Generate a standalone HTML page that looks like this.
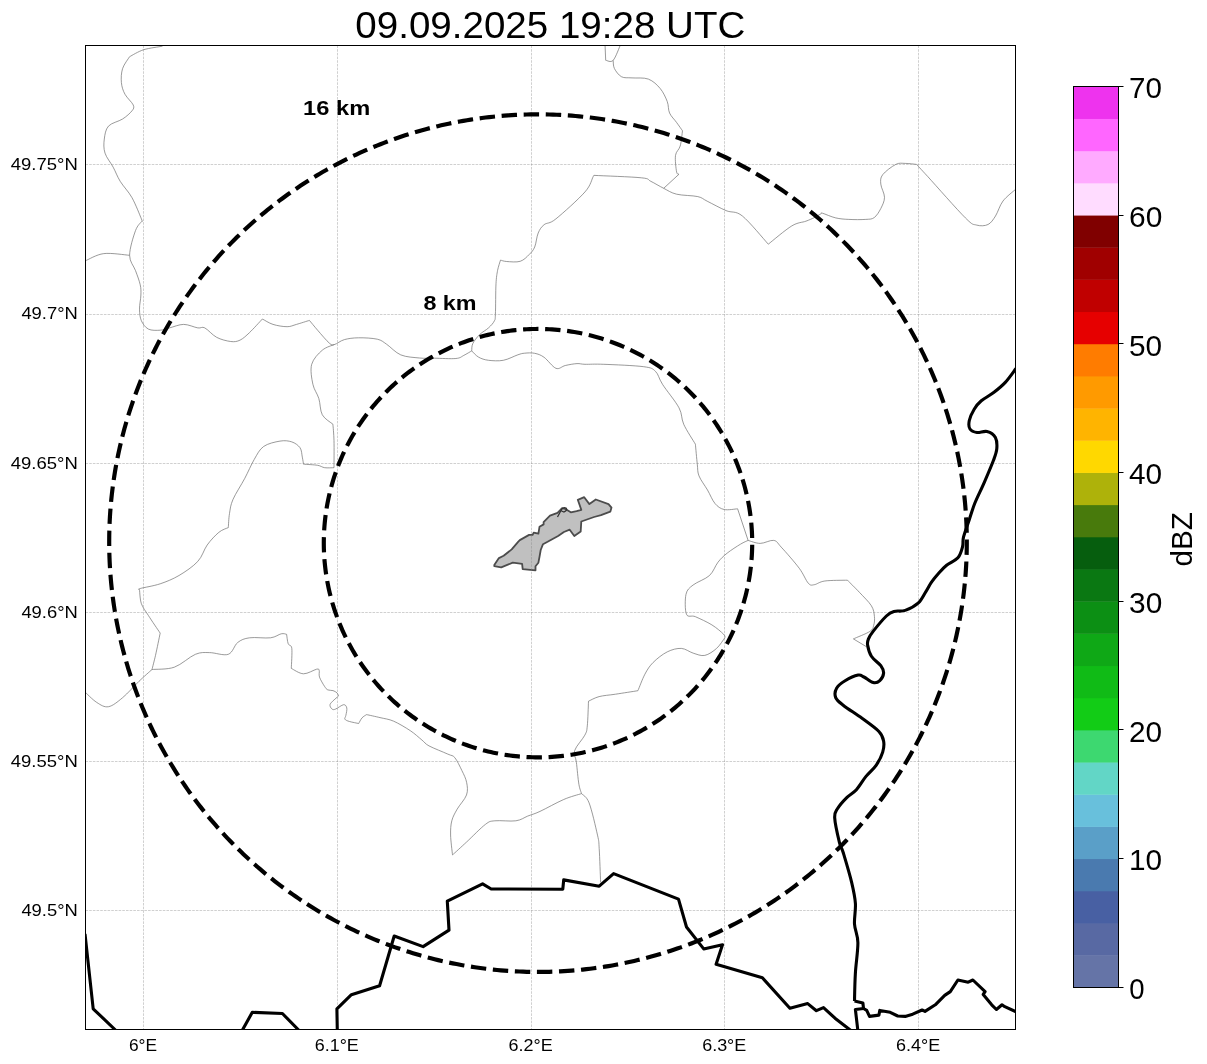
<!DOCTYPE html><html><head><meta charset="utf-8"><style>html,body{margin:0;padding:0;background:#fff;width:1207px;height:1064px;overflow:hidden}svg{display:block;will-change:transform}text{font-family:"Liberation Sans",sans-serif;fill:#000}</style></head><body>
<svg width="1207" height="1064" viewBox="0 0 1207 1064">
<rect width="1207" height="1064" fill="#fff"/>
<defs><clipPath id="ax"><rect x="85.5" y="45.5" width="930.0" height="984.0"/></clipPath></defs>
<g clip-path="url(#ax)">
<path d="M162.5,46.2 C159.4,46.8 149.2,48.0 143.7,49.7 C138.2,51.5 131.9,55.5 129.6,56.7 M129.6,56.7 C128.4,58.7 124.0,64.2 122.6,68.5 C121.2,72.8 121.0,78.3 121.4,82.6 C121.8,86.9 123.0,90.6 125.0,94.3 C127.0,98.0 132.0,102.2 133.2,104.9 C134.4,107.7 133.8,108.5 132.0,110.8 C130.2,113.1 126.5,116.5 122.6,119.0 C118.7,121.5 111.5,122.8 108.5,126.1 C105.5,129.4 104.9,134.5 104.3,139.0 C103.7,143.5 103.5,148.4 105.0,153.1 C106.5,157.8 110.7,162.5 113.2,167.2 C115.7,171.9 117.1,176.2 120.2,181.3 C123.3,186.4 128.5,191.4 132.0,197.7 C135.5,204.0 139.8,215.0 141.4,218.9 C143.1,222.8 141.8,220.8 141.9,221.2 M141.9,221.2 C140.8,222.8 137.6,224.9 135.5,230.6 C133.4,236.3 129.6,248.6 129.6,255.3 C129.6,262.0 133.7,265.7 135.5,270.6 C137.3,275.5 139.3,280.6 140.2,284.7 C141.1,288.8 141.0,290.9 140.9,295.0 C140.8,299.1 139.4,304.8 139.5,309.1 C139.6,313.4 139.9,317.5 141.4,320.8 C142.9,324.1 145.3,327.5 148.4,329.1 C151.5,330.7 156.7,330.4 160.2,330.2 C163.7,330.0 165.7,328.9 169.6,327.9 C173.5,326.9 179.0,324.4 183.7,324.4 C188.4,324.4 194.3,327.3 197.8,327.9 C201.3,328.5 201.7,326.3 204.8,327.9 C207.9,329.5 212.3,335.0 216.6,337.3 C220.9,339.6 226.8,341.0 230.7,341.5 C234.6,342.0 237.0,341.6 240.1,340.1 C243.2,338.6 245.8,336.1 249.5,332.6 C253.2,329.1 260.2,321.3 262.4,319.0 M262.4,319.0 C264.2,319.9 268.9,323.1 273.0,324.4 C277.1,325.7 283.2,326.7 287.1,326.7 C291.0,326.7 292.8,325.4 296.5,324.4 C300.2,323.3 307.2,321.1 309.4,320.4 M309.4,320.4 C310.8,322.0 314.3,326.4 317.6,330.2 C320.9,334.0 326.6,340.8 329.4,343.2 C332.2,345.6 332.0,345.1 334.5,344.5 C337.0,343.9 340.4,340.7 344.4,339.6 C348.4,338.5 353.0,337.9 358.5,337.8 C364.0,337.7 372.6,338.1 377.3,339.2 C382.0,340.3 382.8,341.7 386.7,344.3 C390.6,346.9 395.3,352.6 400.8,354.9 C406.3,357.2 414.0,357.4 419.6,358.0 C425.2,358.6 428.4,358.1 434.5,358.2 C440.6,358.3 451.0,359.0 455.9,358.5 C460.8,358.0 461.2,356.7 463.8,355.4 C466.4,354.1 470.4,351.6 471.7,350.9 M129.6,255.3 C125.3,255.0 111.2,252.7 103.8,253.6 C96.4,254.5 88.1,259.8 85.0,261.0 M605.0,44.0 L605.7,60.3 M605.7,60.3 C607.0,60.3 610.7,63.0 613.2,60.3 C615.7,57.6 619.5,46.7 620.8,44.0 M613.2,60.3 C613.4,61.7 613.0,65.8 614.4,68.5 C615.8,71.2 618.5,75.1 621.4,76.7 C624.3,78.3 627.5,77.5 632.0,77.9 C636.5,78.3 643.7,77.3 648.4,79.1 C653.1,80.9 657.1,84.8 660.2,88.5 C663.3,92.2 665.6,97.3 667.2,101.4 C668.8,105.5 668.0,109.6 669.6,113.1 C671.2,116.6 674.5,119.5 676.6,122.5 C678.8,125.5 681.5,129.4 682.5,130.8 M682.5,130.8 C682.1,133.3 681.4,141.9 680.2,146.0 C679.0,150.1 676.1,151.1 675.5,155.4 C674.9,159.7 676.0,168.8 676.6,171.9 C677.2,175.0 678.6,173.8 679.0,174.2 M679.0,174.2 L663.7,188.3 M471.7,350.9 C471.9,349.7 471.5,346.3 472.8,343.6 C474.1,340.9 477.0,337.2 479.6,334.6 C482.2,332.0 486.2,330.1 488.6,327.8 C491.1,325.5 493.2,323.2 494.3,321.0 C495.4,318.8 495.1,320.5 495.4,314.3 C495.7,308.1 495.6,291.1 496.0,283.8 C496.4,276.5 496.9,274.2 497.6,270.3 C498.4,266.4 500.0,261.8 500.5,260.1 M500.5,260.1 C501.5,260.3 503.4,261.3 506.7,261.5 C510.0,261.7 516.5,262.5 520.2,261.3 C524.0,260.1 526.8,256.9 529.2,254.5 C531.6,252.1 533.2,250.6 534.7,247.0 C536.2,243.4 536.6,236.7 538.2,233.0 C539.8,229.3 541.2,227.0 544.1,224.7 C547.0,222.3 549.1,224.4 555.9,218.9 C562.7,213.4 578.8,199.0 585.0,191.9 C591.2,184.8 591.6,179.3 593.2,176.6 C594.8,173.8 594.2,175.6 594.4,175.4 M594.4,175.4 C602.2,175.8 632.0,176.8 641.4,177.8 C650.8,178.8 647.1,179.6 650.8,181.3 C654.5,183.1 659.4,186.2 663.7,188.3 C668.0,190.5 670.9,192.8 676.6,194.2 C682.3,195.6 692.7,195.4 697.8,196.6 C702.9,197.8 702.5,198.9 707.2,201.2 C711.9,203.5 720.1,208.1 726.0,210.6 C731.9,213.1 735.4,210.4 742.4,216.0 C749.4,221.6 764.0,239.5 768.3,244.2 M768.3,244.2 C772.2,241.1 785.5,229.7 791.8,225.9 C798.1,222.1 802.2,222.6 805.9,221.2 C809.6,219.8 811.6,218.9 814.1,217.7 C816.6,216.4 819.7,214.4 821.1,213.7 C822.5,212.9 820.1,212.5 822.5,213.2 C824.9,213.9 831.3,216.9 835.7,217.9 C840.1,218.9 843.8,219.2 848.8,219.4 C853.8,219.7 861.6,219.7 865.8,219.4 C870.0,219.1 871.7,219.4 874.2,217.6 C876.7,215.8 879.1,211.9 880.8,208.5 C882.5,205.1 884.5,201.4 884.5,197.3 C884.5,193.2 881.1,187.9 880.8,184.1 C880.5,180.3 880.2,178.0 882.7,174.7 C885.2,171.4 892.0,166.3 895.8,164.4 C899.5,162.5 901.8,163.4 905.2,163.4 C908.7,163.4 914.6,164.2 916.5,164.4 M916.5,164.4 C918.4,166.4 919.6,167.7 927.8,176.6 C935.9,185.5 957.2,209.8 965.4,217.9 C973.5,226.0 972.9,224.0 976.7,225.1 C980.5,226.2 984.9,226.0 988.0,224.5 C991.1,223.0 993.0,219.9 995.5,216.0 C998.0,212.1 999.6,205.5 1003.0,201.0 C1006.4,196.5 1013.8,191.0 1016.0,189.0 M334.5,344.5 C332.5,345.4 326.1,346.9 322.3,350.2 C318.5,353.5 313.3,358.6 311.7,364.3 C310.1,370.0 311.7,378.6 312.9,384.3 C314.1,390.0 317.2,393.3 318.8,398.4 C320.4,403.5 320.0,410.5 322.3,414.8 C324.6,419.1 331.1,422.6 332.9,424.2 M332.9,424.2 C333.1,426.9 333.8,433.4 334.0,440.7 C334.2,447.9 334.0,463.2 334.0,467.7 M334.0,467.7 C332.4,467.7 327.4,468.1 324.7,467.7 C322.0,467.3 321.1,465.9 317.6,465.3 C314.1,464.7 305.9,464.4 303.5,464.2 M303.5,464.2 C303.3,463.0 302.9,459.9 302.3,457.1 C301.7,454.4 301.8,450.2 300.0,447.7 C298.2,445.2 295.1,443.0 291.8,441.9 C288.5,440.8 284.7,440.3 280.0,441.1 C275.3,441.9 267.9,443.4 263.6,446.5 C259.3,449.6 257.3,454.2 254.2,459.5 C251.1,464.8 248.3,471.7 244.8,478.3 C241.3,484.9 235.6,493.5 233.0,499.4 C230.4,505.3 230.3,508.8 229.5,513.5 C228.7,518.2 228.5,525.2 228.3,527.6 M228.3,527.6 C226.7,528.4 222.4,529.4 218.9,532.3 C215.4,535.2 210.7,540.1 207.2,545.0 C203.7,549.9 202.5,556.3 197.8,561.4 C193.1,566.5 185.3,571.8 179.0,575.5 C172.7,579.2 166.7,581.6 160.2,583.8 C153.7,586.0 143.6,587.5 140.2,588.5 C136.8,589.5 139.6,589.4 139.5,589.6 M139.5,589.6 C139.8,592.0 139.9,599.4 141.4,603.7 C142.9,608.0 145.3,610.6 148.4,615.5 C151.5,620.4 158.2,630.2 160.2,633.1 M160.2,633.1 C159.4,636.8 156.9,649.3 155.5,655.4 C154.1,661.5 152.6,667.1 152.0,669.5 M152.0,669.5 C149.8,671.5 143.9,676.6 139.0,681.3 C134.1,686.0 127.7,693.5 122.6,697.7 C117.5,701.9 112.8,705.9 108.5,706.7 C104.2,707.5 100.8,705.0 96.7,702.4 C92.6,699.8 86.1,692.9 84.0,691.0 M152.0,669.5 C155.7,669.1 167.1,669.7 174.3,667.2 C181.5,664.7 189.5,656.7 195.4,654.3 C201.3,651.9 204.0,652.6 209.5,652.6 C215.0,652.6 223.6,656.0 228.3,654.3 C233.0,652.6 234.2,645.2 237.7,642.5 C241.2,639.8 244.0,638.6 249.5,637.8 C255.0,637.0 265.3,638.5 270.6,637.8 C275.9,637.1 278.5,634.4 281.2,633.8 C283.9,633.2 285.7,634.2 286.6,634.3 M286.6,634.3 C286.9,635.9 287.3,641.4 288.2,643.7 C289.1,646.1 291.3,644.3 291.8,648.4 C292.3,652.5 291.4,665.1 291.3,668.4 M291.3,668.4 C293.3,669.3 299.3,673.7 303.5,673.8 C307.7,673.9 314.0,669.8 316.6,669.2 C319.2,668.7 318.7,669.2 319.2,670.5 C319.7,671.8 318.6,674.5 319.5,677.1 C320.4,679.7 323.1,684.2 324.5,686.3 C325.9,688.4 326.4,689.2 327.8,689.9 C329.2,690.6 331.5,690.1 333.0,690.6 C334.5,691.1 336.1,692.0 337.0,692.9 C337.9,693.8 338.3,695.4 338.6,695.9 M338.6,695.9 C337.4,697.0 332.5,701.1 331.1,702.8 C329.7,704.5 329.9,705.0 330.1,706.1 C330.3,707.2 331.5,708.8 332.4,709.3 C333.3,709.8 333.8,709.8 335.7,709.0 C337.6,708.2 341.8,704.9 343.6,704.7 C345.5,704.5 346.4,706.2 346.8,708.0 C347.2,709.8 346.2,713.4 345.9,715.3 C345.6,717.2 344.3,718.2 344.9,719.2 C345.5,720.2 347.2,720.8 349.5,721.5 C351.8,722.2 357.2,723.2 358.7,723.5 M358.7,723.5 C359.2,722.6 360.7,719.4 362.0,717.9 C363.3,716.4 365.8,715.1 366.6,714.6 M366.6,714.6 C368.8,715.1 375.5,716.5 380.0,717.6 C384.5,718.7 388.7,719.0 393.7,721.2 C398.7,723.4 405.5,727.5 410.2,730.6 C414.9,733.7 418.8,737.5 421.9,740.0 C425.0,742.5 424.7,743.5 429.0,745.9 C433.3,748.2 443.5,752.1 447.8,754.1 C452.1,756.1 452.5,754.9 454.8,757.6 C457.1,760.4 459.9,766.5 461.9,770.6 C463.9,774.7 465.8,778.2 466.6,782.3 C467.4,786.4 468.1,790.5 466.5,795.0 C464.9,799.5 459.6,804.8 457.2,809.1 C454.8,813.4 452.9,816.5 451.8,820.8 C450.7,825.1 450.5,829.3 450.6,835.0 C450.7,840.7 452.2,851.6 452.5,854.9 M452.5,854.9 C454.9,852.8 461.1,847.1 466.6,842.0 C472.1,836.9 480.7,827.9 485.4,824.4 C490.1,820.9 489.7,821.4 494.8,820.8 C499.9,820.2 510.4,821.6 515.9,820.8 C521.4,820.0 523.7,817.7 527.7,816.1 C531.7,814.5 534.0,814.2 540.0,811.4 C546.0,808.6 556.8,802.5 563.7,799.5 C570.6,796.5 578.5,794.6 581.5,793.6 M748.1,540.4 C746.9,541.0 744.1,542.0 740.6,544.1 C737.1,546.2 730.9,550.2 727.1,553.2 C723.3,556.2 720.9,558.5 718.0,562.2 C715.1,565.9 713.6,571.7 709.5,575.5 C705.4,579.3 697.0,581.9 693.1,585.0 C689.2,588.1 687.1,589.4 686.0,594.3 C684.9,599.2 684.9,610.6 686.5,614.3 C688.1,618.0 691.2,614.9 695.4,616.7 C699.6,618.5 707.2,622.0 711.9,624.9 C716.6,627.8 721.5,632.1 723.6,634.3 C725.8,636.4 724.6,637.2 724.8,637.8 M724.8,637.8 C723.4,639.6 719.9,645.5 716.6,648.4 C713.3,651.3 708.7,654.6 704.8,655.4 C700.9,656.2 697.0,654.3 693.1,653.1 C689.2,651.9 685.6,648.6 681.3,648.4 C677.0,648.2 671.9,649.5 667.2,651.9 C662.5,654.2 656.8,658.8 653.1,662.5 C649.4,666.2 647.4,669.5 644.9,674.2 C642.4,678.9 639.1,688.0 637.9,690.7 M637.9,690.7 C634.2,691.3 622.0,693.2 615.5,694.2 C609.0,695.2 603.6,695.4 599.1,696.6 C594.6,697.8 590.3,700.4 588.5,701.2 M588.5,701.2 C588.3,705.3 587.9,720.2 587.3,725.9 C586.7,731.6 586.9,731.1 584.8,735.2 C582.7,739.3 576.1,746.0 574.7,750.5 C573.3,755.0 575.7,756.7 576.4,762.3 C577.1,767.9 578.0,779.1 578.9,784.3 C579.8,789.5 581.1,792.0 581.5,793.6 M581.5,793.6 C582.8,795.1 586.4,796.0 589.1,802.9 C591.8,809.8 595.8,827.5 597.5,835.1 C599.2,842.7 598.7,840.7 599.2,848.6 C599.7,856.5 600.4,876.8 600.6,882.4 M471.7,350.9 C472.8,351.9 475.7,355.5 478.5,357.1 C481.3,358.7 484.5,359.8 488.6,360.3 C492.7,360.8 498.4,361.2 503.3,360.3 C508.2,359.4 514.3,356.0 517.9,354.8 C521.5,353.6 521.9,353.4 524.7,353.2 C527.5,352.9 531.5,352.6 534.7,353.3 C537.9,354.0 540.6,354.8 544.1,357.3 C547.6,359.8 552.4,366.9 555.9,368.3 C559.4,369.7 561.8,366.3 565.3,365.5 C568.8,364.7 573.7,363.8 577.0,363.6 C580.3,363.4 580.5,364.2 585.0,364.3 C589.5,364.4 594.0,363.9 603.8,364.3 C613.6,364.7 635.1,365.5 643.7,366.7 C652.3,367.9 652.4,368.5 655.5,371.4 C658.6,374.3 658.6,378.2 662.5,384.3 C666.4,390.4 675.5,401.2 679.0,407.8 C682.5,414.4 681.0,418.1 683.7,424.2 C686.4,430.3 693.5,440.9 695.4,444.2 M695.4,444.2 C695.7,447.5 696.7,458.9 697.3,464.2 C697.9,469.5 697.3,471.6 699.0,475.9 C700.7,480.2 704.8,485.4 707.5,490.0 C710.2,494.6 712.2,500.2 715.0,503.5 C717.8,506.8 720.3,508.6 724.1,509.5 C727.9,510.4 735.4,508.9 737.6,508.8 M737.6,508.8 L748.1,540.4 M748.1,540.4 C750.1,540.9 755.9,543.4 760.2,543.4 C764.5,543.4 770.2,539.8 773.7,540.4 C777.2,541.0 777.0,542.5 781.2,547.1 C785.5,551.7 794.7,562.2 799.2,568.2 C803.7,574.2 805.8,580.5 808.3,583.2 C810.8,586.0 811.5,585.1 814.3,584.7 C817.0,584.3 819.3,581.8 824.8,581.0 C830.3,580.2 843.6,580.3 847.4,580.2 M847.4,580.2 C849.4,582.2 855.4,588.0 859.4,592.3 C863.4,596.6 868.9,601.8 871.4,605.8 C873.9,609.8 874.0,613.0 874.4,616.3 C874.8,619.5 874.5,622.8 873.7,625.3 C873.0,627.8 873.3,629.1 869.9,631.4 C866.5,633.7 856.1,637.6 853.4,638.9 M853.4,638.9 L868.4,647.9" fill="none" stroke="#6e6e6e" stroke-width="0.7" stroke-linejoin="round"/>
<polygon points="494.3,565.0 498.9,558.1 503.6,555.8 511.7,549.4 518.1,541.8 519.8,540.1 529.1,534.9 532.6,534.9 533.7,532.6 538.4,533.7 539.5,526.8 543.6,524.4 543.6,522.1 545.3,520.4 550.0,515.7 557.5,512.8 562.1,508.2 565.0,508.8 570.8,512.3 576.6,511.1 581.3,509.9 577.8,499.8 584.2,497.2 589.4,504.1 595.8,499.5 608.5,504.1 611.5,507.6 610.3,511.7 601.0,515.2 594.1,517.0 581.3,521.5 580.7,531.4 574.3,536.0 569.7,529.7 563.9,532.0 558.1,536.0 547.6,541.8 543.0,544.2 540.7,550.0 539.5,556.9 538.4,562.7 535.5,566.2 535.5,570.3 522.7,569.1 522.1,563.9 512.8,562.7 501.2,567.4 494.3,566.2" fill="#c0c0c0" stroke="#4c4c4c" stroke-width="1.8" stroke-linejoin="round"/>
<path d="M557.5 517 L561 510.5 Q563 506.5 566 508 Q568 510 564 512 L561.5 511" fill="none" stroke="#333" stroke-width="1.3"/>
<path d="M143.5 45.5V1029.5M337.5 45.5V1029.5M531.5 45.5V1029.5M724.5 45.5V1029.5M918.5 45.5V1029.5M85.5 164.5H1015.5M85.5 314.5H1015.5M85.5 463.5H1015.5M85.5 612.5H1015.5M85.5 761.5H1015.5M85.5 910.5H1015.5" stroke="#808080" stroke-opacity="0.37" stroke-width="1" stroke-dasharray="2.57 1.11" fill="none"/>
<path d="M1016.0,368.5 C1014.2,370.8 1009.0,378.4 1005.3,382.4 C1001.6,386.4 998.0,389.2 994.0,392.3 C990.0,395.4 984.6,398.0 981.3,400.8 C978.0,403.6 976.2,405.9 974.2,409.2 C972.2,412.5 970.0,417.2 969.3,420.5 C968.6,423.8 968.7,427.0 970.0,429.0 C971.3,431.0 974.2,432.1 977.0,432.5 C979.8,432.9 983.9,430.7 987.0,431.5 C990.1,432.3 993.8,434.5 995.4,437.4 C997.0,440.3 997.1,444.9 996.8,448.7 C996.5,452.5 995.7,454.4 993.6,460.0 C991.5,465.6 987.3,475.4 984.2,482.6 C981.1,489.8 977.3,497.0 974.8,503.3 C972.3,509.6 971.0,514.6 969.1,520.2 C967.2,525.8 964.6,532.7 963.5,537.1 C962.4,541.5 963.5,543.0 962.6,546.5 C961.7,550.0 960.6,554.7 957.9,557.8 C955.2,560.9 949.7,562.8 946.6,565.3 C943.5,567.8 941.6,570.0 939.1,572.8 C936.6,575.6 933.7,579.1 931.5,582.2 C929.3,585.3 928.1,588.2 925.9,591.6 C923.7,595.0 921.8,599.8 918.4,602.9 C915.0,606.0 909.3,609.0 905.2,610.4 C901.1,611.8 897.0,610.5 893.9,611.4 C890.8,612.3 889.8,612.7 886.4,616.0 C883.0,619.3 876.3,627.3 873.3,631.1 C870.3,634.9 869.5,636.3 868.6,638.6 C867.7,640.9 867.1,642.0 867.6,645.0 C868.1,648.0 869.2,652.8 871.4,656.3 C873.6,659.8 878.8,662.9 880.8,665.7 C882.8,668.5 883.8,670.7 883.6,673.2 C883.4,675.7 881.5,679.1 879.8,680.7 C878.1,682.3 875.9,683.2 873.3,682.6 C870.6,682.0 866.4,678.2 863.9,677.0 C861.4,675.8 861.3,674.5 858.2,675.1 C855.1,675.7 848.7,678.5 845.1,680.7 C841.5,682.9 838.2,685.4 836.6,688.2 C835.0,691.0 834.6,694.8 835.7,697.6 C836.8,700.4 838.8,701.8 843.2,705.2 C847.6,708.7 856.0,713.9 862.0,718.3 C868.0,722.7 875.3,727.7 878.9,731.5 C882.5,735.3 883.0,737.5 883.6,740.9 C884.2,744.3 884.0,748.0 882.7,752.1 C881.5,756.2 878.9,761.2 876.1,765.3 C873.3,769.4 869.1,772.5 865.8,776.6 C862.5,780.7 859.5,786.2 856.4,789.7 C853.3,793.2 850.1,794.2 847.0,797.3 C843.9,800.4 839.6,805.1 837.6,808.5 C835.6,811.9 834.4,812.2 834.7,817.9 C835.0,823.5 838.0,836.6 839.4,842.4 C840.8,848.2 841.2,845.8 843.2,852.5 C845.2,859.2 849.7,874.1 851.7,882.6 C853.7,891.1 854.9,896.4 855.4,903.3 C855.9,910.2 854.1,917.4 854.5,924.0 C854.9,930.6 857.8,934.6 857.9,942.7 C858.0,950.8 856.0,963.1 855.4,972.8 C854.8,982.5 854.6,996.3 854.5,1001.0" fill="none" stroke="#000" stroke-width="3.1" stroke-linejoin="round"/>
<polyline points="854.5,1001.0 862.9,1002.9 863.5,1008.5 855.4,1009.5 857.9,1031.0" fill="none" stroke="#000" stroke-width="3.1" stroke-linejoin="round" stroke-linecap="butt"/>
<polyline points="863.5,1008.5 866.7,1010.4 869.5,1016.4 878.9,1015.1 879.8,1010.4 890.2,1012.3 897.7,1016.0 905.2,1016.4 912.7,1014.2 922.1,1010.0 925.0,1011.4 935.3,1004.8 944.7,995.4 950.3,991.6 957.9,980.0 968.2,982.2 972.9,980.0 985.1,991.6 983.2,994.4 991.7,1004.8 996.4,1009.5 1002.0,1004.8 1004.8,1006.7 1016.0,1011.8" fill="none" stroke="#000" stroke-width="3.1" stroke-linejoin="round" stroke-linecap="butt"/>
<polyline points="241.9,1031.0 252.3,1012.3 282.4,1013.5 299.6,1031.0" fill="none" stroke="#000" stroke-width="3.1" stroke-linejoin="round" stroke-linecap="butt"/>
<polyline points="337.3,1031.0 336.9,1008.8 351.4,994.7 379.6,985.8 394.2,936.0 423.1,946.6 449.0,930.1 447.3,901.2 482.6,883.8 491.2,889.0 562.8,889.2 563.7,879.9 599.2,886.2 613.6,873.6 678.5,899.1 686.5,927.0 703.7,948.9 722.5,944.7 716.1,964.2 762.4,977.8 789.9,1008.3 807.7,1003.6 816.4,1010.7 823.5,1007.6 835.0,1018.2 851.5,1031.0" fill="none" stroke="#000" stroke-width="3.1" stroke-linejoin="round" stroke-linecap="butt"/>
<polyline points="85.0,934.0 93.2,1008.8 116.5,1031.0" fill="none" stroke="#000" stroke-width="3.1" stroke-linejoin="round" stroke-linecap="butt"/>
<path d="M966.80,543.15 L966.77,546.89 L966.71,550.63 L966.62,554.37 L966.49,558.11 L966.34,561.85 L966.15,565.59 L965.92,569.33 L965.67,573.06 L965.38,576.79 L965.06,580.52 L964.71,584.25 L964.32,587.97 L963.90,591.69 L963.45,595.41 L962.97,599.12 L962.45,602.83 L961.91,606.53 L961.33,610.23 L960.71,613.92 L960.07,617.61 L959.39,621.29 L958.69,624.97 L957.95,628.64 L957.17,632.30 L956.37,635.96 L955.53,639.61 L954.67,643.25 L953.77,646.89 L952.84,650.51 L951.87,654.13 L950.88,657.74 L949.85,661.34 L948.80,664.94 L947.71,668.52 L946.59,672.09 L945.44,675.66 L944.26,679.21 L943.05,682.75 L941.81,686.29 L940.53,689.81 L939.23,693.32 L937.90,696.82 L936.53,700.31 L935.14,703.78 L933.71,707.24 L932.26,710.70 L930.77,714.13 L929.26,717.56 L927.72,720.97 L926.14,724.37 L924.54,727.75 L922.91,731.12 L921.24,734.48 L919.55,737.82 L917.83,741.15 L916.09,744.46 L914.31,747.76 L912.50,751.04 L910.67,754.30 L908.81,757.55 L906.92,760.78 L905.00,764.00 L903.05,767.20 L901.08,770.38 L899.07,773.54 L897.05,776.69 L894.99,779.82 L892.91,782.93 L890.80,786.02 L888.66,789.10 L886.50,792.16 L884.31,795.19 L882.09,798.21 L879.85,801.21 L877.58,804.19 L875.29,807.15 L872.97,810.08 L870.62,813.00 L868.25,815.90 L865.86,818.78 L863.44,821.63 L861.00,824.47 L858.53,827.28 L856.03,830.07 L853.52,832.84 L850.98,835.59 L848.41,838.32 L845.82,841.02 L843.21,843.70 L840.58,846.36 L837.92,848.99 L835.24,851.60 L832.54,854.19 L829.81,856.75 L827.07,859.29 L824.30,861.81 L821.51,864.30 L818.69,866.77 L815.86,869.21 L813.01,871.63 L810.13,874.02 L807.24,876.39 L804.32,878.73 L801.38,881.05 L798.43,883.34 L795.45,885.60 L792.46,887.84 L789.44,890.06 L786.41,892.24 L783.36,894.40 L780.29,896.54 L777.20,898.64 L774.09,900.72 L770.97,902.77 L767.82,904.80 L764.66,906.79 L761.49,908.76 L758.29,910.70 L755.08,912.62 L751.85,914.50 L748.61,916.36 L745.35,918.19 L742.08,919.99 L738.79,921.76 L735.48,923.50 L732.16,925.21 L728.83,926.90 L725.48,928.55 L722.11,930.18 L718.74,931.77 L715.35,933.34 L711.94,934.88 L708.52,936.39 L705.09,937.86 L701.65,939.31 L698.19,940.73 L694.73,942.11 L691.25,943.47 L687.76,944.80 L684.25,946.09 L680.74,947.35 L677.22,948.59 L673.68,949.79 L670.14,950.96 L666.58,952.10 L663.02,953.21 L659.44,954.29 L655.86,955.34 L652.27,956.35 L648.67,957.34 L645.06,958.29 L641.44,959.21 L637.82,960.10 L634.18,960.96 L630.54,961.79 L626.90,962.58 L623.24,963.34 L619.58,964.07 L615.92,964.77 L612.25,965.44 L608.57,966.07 L604.88,966.67 L601.20,967.24 L597.50,967.78 L593.81,968.28 L590.11,968.75 L586.40,969.19 L582.69,969.60 L578.98,969.98 L575.26,970.32 L571.54,970.63 L567.82,970.91 L564.10,971.15 L560.38,971.36 L556.65,971.54 L552.92,971.69 L549.19,971.80 L545.46,971.88 L541.73,971.93 L538.00,971.95 L534.27,971.93 L530.54,971.88 L526.81,971.80 L523.08,971.69 L519.35,971.54 L515.62,971.36 L511.90,971.15 L508.18,970.91 L504.46,970.63 L500.74,970.32 L497.02,969.98 L493.31,969.60 L489.60,969.19 L485.89,968.75 L482.19,968.28 L478.50,967.78 L474.80,967.24 L471.12,966.67 L467.43,966.07 L463.75,965.44 L460.08,964.77 L456.42,964.07 L452.76,963.34 L449.10,962.58 L445.46,961.79 L441.82,960.96 L438.18,960.10 L434.56,959.21 L430.94,958.29 L427.33,957.34 L423.73,956.35 L420.14,955.34 L416.56,954.29 L412.98,953.21 L409.42,952.10 L405.86,950.96 L402.32,949.79 L398.78,948.59 L395.26,947.35 L391.75,946.09 L388.24,944.80 L384.75,943.47 L381.27,942.11 L377.81,940.73 L374.35,939.31 L370.91,937.86 L367.48,936.39 L364.06,934.88 L360.65,933.34 L357.26,931.77 L353.89,930.18 L350.52,928.55 L347.17,926.90 L343.84,925.21 L340.52,923.50 L337.21,921.76 L333.92,919.99 L330.65,918.19 L327.39,916.36 L324.15,914.50 L320.92,912.62 L317.71,910.70 L314.51,908.76 L311.34,906.79 L308.18,904.80 L305.03,902.77 L301.91,900.72 L298.80,898.64 L295.71,896.54 L292.64,894.40 L289.59,892.24 L286.56,890.06 L283.54,887.84 L280.55,885.60 L277.57,883.34 L274.62,881.05 L271.68,878.73 L268.76,876.39 L265.87,874.02 L262.99,871.63 L260.14,869.21 L257.31,866.77 L254.49,864.30 L251.70,861.81 L248.93,859.29 L246.19,856.75 L243.46,854.19 L240.76,851.60 L238.08,848.99 L235.42,846.36 L232.79,843.70 L230.18,841.02 L227.59,838.32 L225.02,835.59 L222.48,832.84 L219.97,830.07 L217.47,827.28 L215.00,824.47 L212.56,821.63 L210.14,818.78 L207.75,815.90 L205.38,813.00 L203.03,810.08 L200.71,807.15 L198.42,804.19 L196.15,801.21 L193.91,798.21 L191.69,795.19 L189.50,792.16 L187.34,789.10 L185.20,786.02 L183.09,782.93 L181.01,779.82 L178.95,776.69 L176.93,773.54 L174.92,770.38 L172.95,767.20 L171.00,764.00 L169.08,760.78 L167.19,757.55 L165.33,754.30 L163.50,751.04 L161.69,747.76 L159.91,744.46 L158.17,741.15 L156.45,737.82 L154.76,734.48 L153.09,731.12 L151.46,727.75 L149.86,724.37 L148.28,720.97 L146.74,717.56 L145.23,714.13 L143.74,710.70 L142.29,707.24 L140.86,703.78 L139.47,700.31 L138.10,696.82 L136.77,693.32 L135.47,689.81 L134.19,686.29 L132.95,682.75 L131.74,679.21 L130.56,675.66 L129.41,672.09 L128.29,668.52 L127.20,664.94 L126.15,661.34 L125.12,657.74 L124.13,654.13 L123.16,650.51 L122.23,646.89 L121.33,643.25 L120.47,639.61 L119.63,635.96 L118.83,632.30 L118.05,628.64 L117.31,624.97 L116.61,621.29 L115.93,617.61 L115.29,613.92 L114.67,610.23 L114.09,606.53 L113.55,602.83 L113.03,599.12 L112.55,595.41 L112.10,591.69 L111.68,587.97 L111.29,584.25 L110.94,580.52 L110.62,576.79 L110.33,573.06 L110.08,569.33 L109.85,565.59 L109.66,561.85 L109.51,558.11 L109.38,554.37 L109.29,550.63 L109.23,546.89 L109.20,543.15 L109.21,539.41 L109.24,535.67 L109.31,531.93 L109.42,528.19 L109.55,524.45 L109.72,520.71 L109.92,516.97 L110.16,513.24 L110.42,509.51 L110.72,505.78 L111.05,502.05 L111.42,498.33 L111.81,494.61 L112.24,490.89 L112.70,487.18 L113.20,483.47 L113.73,479.77 L114.28,476.07 L114.87,472.38 L115.50,468.69 L116.15,465.01 L116.84,461.33 L117.56,457.66 L118.31,454.00 L119.10,450.34 L119.91,446.69 L120.76,443.05 L121.64,439.41 L122.55,435.79 L123.49,432.17 L124.47,428.56 L125.48,424.96 L126.51,421.36 L127.58,417.78 L128.68,414.21 L129.82,410.64 L130.98,407.09 L132.17,403.55 L133.40,400.01 L134.65,396.49 L135.94,392.98 L137.26,389.48 L138.61,385.99 L139.98,382.52 L141.39,379.06 L142.83,375.60 L144.30,372.17 L145.80,368.74 L147.33,365.33 L148.89,361.93 L150.48,358.55 L152.10,355.18 L153.75,351.82 L155.42,348.48 L157.13,345.15 L158.87,341.84 L160.63,338.54 L162.43,335.26 L164.25,332.00 L166.10,328.75 L167.98,325.52 L169.89,322.30 L171.82,319.10 L173.79,315.92 L175.78,312.76 L177.80,309.61 L179.85,306.48 L181.92,303.37 L184.02,300.28 L186.15,297.20 L188.31,294.14 L190.49,291.11 L192.70,288.09 L194.94,285.09 L197.20,282.11 L199.49,279.15 L201.80,276.22 L204.14,273.30 L206.51,270.40 L208.90,267.52 L211.31,264.67 L213.75,261.83 L216.22,259.02 L218.71,256.23 L221.22,253.46 L223.76,250.71 L226.33,247.98 L228.91,245.28 L231.52,242.60 L234.16,239.94 L236.82,237.31 L239.50,234.70 L242.20,232.11 L244.93,229.55 L247.68,227.01 L250.45,224.49 L253.24,222.00 L256.05,219.53 L258.89,217.09 L261.75,214.67 L264.63,212.28 L267.53,209.91 L270.45,207.57 L273.39,205.25 L276.35,202.96 L279.33,200.70 L282.33,198.46 L285.35,196.24 L288.40,194.06 L291.45,191.90 L294.53,189.76 L297.63,187.66 L300.75,185.58 L303.88,183.53 L307.03,181.50 L310.20,179.51 L313.39,177.54 L316.59,175.60 L319.81,173.68 L323.05,171.80 L326.31,169.94 L329.58,168.11 L332.86,166.31 L336.16,164.54 L339.48,162.80 L342.82,161.09 L346.16,159.40 L349.53,157.75 L352.90,156.12 L356.30,154.53 L359.70,152.96 L363.12,151.42 L366.55,149.91 L370.00,148.44 L373.46,146.99 L376.93,145.57 L380.41,144.19 L383.91,142.83 L387.42,141.50 L390.93,140.21 L394.46,138.95 L398.01,137.71 L401.56,136.51 L405.12,135.34 L408.69,134.20 L412.28,133.09 L415.87,132.01 L419.47,130.96 L423.08,129.95 L426.70,128.96 L430.33,128.01 L433.97,127.09 L437.61,126.20 L441.26,125.34 L444.92,124.51 L448.59,123.72 L452.26,122.96 L455.94,122.23 L459.63,121.53 L463.32,120.86 L467.02,120.23 L470.72,119.63 L474.43,119.06 L478.15,118.52 L481.87,118.02 L485.59,117.55 L489.32,117.11 L493.05,116.70 L496.78,116.32 L500.52,115.98 L504.26,115.67 L508.00,115.39 L511.75,115.15 L515.49,114.94 L519.24,114.76 L522.99,114.61 L526.74,114.50 L530.49,114.42 L534.25,114.37 L538.00,114.35 L541.75,114.37 L545.51,114.42 L549.26,114.50 L553.01,114.61 L556.76,114.76 L560.51,114.94 L564.25,115.15 L568.00,115.39 L571.74,115.67 L575.48,115.98 L579.22,116.32 L582.95,116.70 L586.68,117.11 L590.41,117.55 L594.13,118.02 L597.85,118.52 L601.57,119.06 L605.28,119.63 L608.98,120.23 L612.68,120.86 L616.37,121.53 L620.06,122.23 L623.74,122.96 L627.41,123.72 L631.08,124.51 L634.74,125.34 L638.39,126.20 L642.03,127.09 L645.67,128.01 L649.30,128.96 L652.92,129.95 L656.53,130.96 L660.13,132.01 L663.72,133.09 L667.31,134.20 L670.88,135.34 L674.44,136.51 L677.99,137.71 L681.54,138.95 L685.07,140.21 L688.58,141.50 L692.09,142.83 L695.59,144.19 L699.07,145.57 L702.54,146.99 L706.00,148.44 L709.45,149.91 L712.88,151.42 L716.30,152.96 L719.70,154.53 L723.10,156.12 L726.47,157.75 L729.84,159.40 L733.18,161.09 L736.52,162.80 L739.84,164.54 L743.14,166.31 L746.42,168.11 L749.69,169.94 L752.95,171.80 L756.19,173.68 L759.41,175.60 L762.61,177.54 L765.80,179.51 L768.97,181.50 L772.12,183.53 L775.25,185.58 L778.37,187.66 L781.47,189.76 L784.55,191.90 L787.60,194.06 L790.65,196.24 L793.67,198.46 L796.67,200.70 L799.65,202.96 L802.61,205.25 L805.55,207.57 L808.47,209.91 L811.37,212.28 L814.25,214.67 L817.11,217.09 L819.95,219.53 L822.76,222.00 L825.55,224.49 L828.32,227.01 L831.07,229.55 L833.80,232.11 L836.50,234.70 L839.18,237.31 L841.84,239.94 L844.48,242.60 L847.09,245.28 L849.67,247.98 L852.24,250.71 L854.78,253.46 L857.29,256.23 L859.78,259.02 L862.25,261.83 L864.69,264.67 L867.10,267.52 L869.49,270.40 L871.86,273.30 L874.20,276.22 L876.51,279.15 L878.80,282.11 L881.06,285.09 L883.30,288.09 L885.51,291.11 L887.69,294.14 L889.85,297.20 L891.98,300.28 L894.08,303.37 L896.15,306.48 L898.20,309.61 L900.22,312.76 L902.21,315.92 L904.18,319.10 L906.11,322.30 L908.02,325.52 L909.90,328.75 L911.75,332.00 L913.57,335.26 L915.37,338.54 L917.13,341.84 L918.87,345.15 L920.58,348.48 L922.25,351.82 L923.90,355.18 L925.52,358.55 L927.11,361.93 L928.67,365.33 L930.20,368.74 L931.70,372.17 L933.17,375.60 L934.61,379.06 L936.02,382.52 L937.39,385.99 L938.74,389.48 L940.06,392.98 L941.35,396.49 L942.60,400.01 L943.83,403.55 L945.02,407.09 L946.18,410.64 L947.32,414.21 L948.42,417.78 L949.49,421.36 L950.52,424.96 L951.53,428.56 L952.51,432.17 L953.45,435.79 L954.36,439.41 L955.24,443.05 L956.09,446.69 L956.90,450.34 L957.69,454.00 L958.44,457.66 L959.16,461.33 L959.85,465.01 L960.50,468.69 L961.13,472.38 L961.72,476.07 L962.27,479.77 L962.80,483.47 L963.30,487.18 L963.76,490.89 L964.19,494.61 L964.58,498.33 L964.95,502.05 L965.28,505.78 L965.58,509.51 L965.84,513.24 L966.08,516.97 L966.28,520.71 L966.45,524.45 L966.58,528.19 L966.69,531.93 L966.76,535.67 L966.79,539.41 L966.80,543.15Z" fill="none" stroke="#000" stroke-width="4.17" pathLength="2694.98" stroke-dasharray="15.42 6.67" stroke-dashoffset="3.71"/>
<path d="M752.20,543.15 L752.18,545.95 L752.12,548.76 L752.02,551.56 L751.89,554.36 L751.72,557.16 L751.52,559.96 L751.27,562.75 L750.99,565.54 L750.68,568.33 L750.33,571.11 L749.94,573.89 L749.51,576.66 L749.05,579.42 L748.56,582.18 L748.02,584.94 L747.46,587.68 L746.85,590.42 L746.21,593.15 L745.53,595.88 L744.82,598.59 L744.08,601.29 L743.29,603.99 L742.48,606.67 L741.62,609.34 L740.74,612.00 L739.81,614.65 L738.86,617.29 L737.87,619.91 L736.84,622.52 L735.78,625.12 L734.69,627.70 L733.56,630.27 L732.40,632.83 L731.21,635.37 L729.99,637.89 L728.73,640.39 L727.43,642.88 L726.11,645.36 L724.75,647.81 L723.37,650.25 L721.95,652.67 L720.50,655.07 L719.01,657.45 L717.50,659.81 L715.96,662.15 L714.38,664.47 L712.78,666.77 L711.14,669.05 L709.48,671.31 L707.78,673.55 L706.06,675.76 L704.31,677.95 L702.53,680.12 L700.72,682.26 L698.89,684.38 L697.03,686.48 L695.13,688.55 L693.22,690.60 L691.27,692.62 L689.30,694.61 L687.31,696.58 L685.29,698.53 L683.24,700.44 L681.17,702.33 L679.08,704.19 L676.96,706.03 L674.81,707.84 L672.65,709.61 L670.46,711.36 L668.24,713.09 L666.01,714.78 L663.75,716.44 L661.48,718.07 L659.18,719.68 L656.86,721.25 L654.52,722.79 L652.16,724.30 L649.78,725.79 L647.38,727.23 L644.96,728.65 L642.53,730.04 L640.08,731.39 L637.60,732.71 L635.12,734.00 L632.61,735.26 L630.09,736.48 L627.56,737.67 L625.01,738.83 L622.44,739.96 L619.86,741.04 L617.27,742.10 L614.66,743.12 L612.04,744.11 L609.40,745.06 L606.76,745.98 L604.10,746.87 L601.43,747.72 L598.75,748.53 L596.06,749.31 L593.36,750.05 L590.65,750.76 L587.93,751.43 L585.21,752.07 L582.47,752.67 L579.73,753.23 L576.98,753.76 L574.22,754.26 L571.46,754.71 L568.69,755.13 L565.92,755.52 L563.14,755.87 L560.36,756.18 L557.57,756.45 L554.78,756.69 L551.99,756.89 L549.19,757.06 L546.40,757.18 L543.60,757.28 L540.80,757.33 L538.00,757.35 L535.20,757.33 L532.40,757.28 L529.60,757.18 L526.81,757.06 L524.01,756.89 L521.22,756.69 L518.43,756.45 L515.64,756.18 L512.86,755.87 L510.08,755.52 L507.31,755.13 L504.54,754.71 L501.78,754.26 L499.02,753.76 L496.27,753.23 L493.53,752.67 L490.79,752.07 L488.07,751.43 L485.35,750.76 L482.64,750.05 L479.94,749.31 L477.25,748.53 L474.57,747.72 L471.90,746.87 L469.24,745.98 L466.60,745.06 L463.96,744.11 L461.34,743.12 L458.73,742.10 L456.14,741.04 L453.56,739.96 L450.99,738.83 L448.44,737.67 L445.91,736.48 L443.39,735.26 L440.88,734.00 L438.40,732.71 L435.92,731.39 L433.47,730.04 L431.04,728.65 L428.62,727.23 L426.22,725.79 L423.84,724.30 L421.48,722.79 L419.14,721.25 L416.82,719.68 L414.52,718.07 L412.25,716.44 L409.99,714.78 L407.76,713.09 L405.54,711.36 L403.35,709.61 L401.19,707.84 L399.04,706.03 L396.92,704.19 L394.83,702.33 L392.76,700.44 L390.71,698.53 L388.69,696.58 L386.70,694.61 L384.73,692.62 L382.78,690.60 L380.87,688.55 L378.97,686.48 L377.11,684.38 L375.28,682.26 L373.47,680.12 L371.69,677.95 L369.94,675.76 L368.22,673.55 L366.52,671.31 L364.86,669.05 L363.22,666.77 L361.62,664.47 L360.04,662.15 L358.50,659.81 L356.99,657.45 L355.50,655.07 L354.05,652.67 L352.63,650.25 L351.25,647.81 L349.89,645.36 L348.57,642.88 L347.27,640.39 L346.01,637.89 L344.79,635.37 L343.60,632.83 L342.44,630.27 L341.31,627.70 L340.22,625.12 L339.16,622.52 L338.13,619.91 L337.14,617.29 L336.19,614.65 L335.26,612.00 L334.38,609.34 L333.52,606.67 L332.71,603.99 L331.92,601.29 L331.18,598.59 L330.47,595.88 L329.79,593.15 L329.15,590.42 L328.54,587.68 L327.98,584.94 L327.44,582.18 L326.95,579.42 L326.49,576.66 L326.06,573.89 L325.67,571.11 L325.32,568.33 L325.01,565.54 L324.73,562.75 L324.48,559.96 L324.28,557.16 L324.11,554.36 L323.98,551.56 L323.88,548.76 L323.82,545.95 L323.80,543.15 L323.81,540.35 L323.87,537.54 L323.95,534.74 L324.08,531.94 L324.24,529.14 L324.44,526.34 L324.67,523.55 L324.94,520.76 L325.25,517.97 L325.59,515.19 L325.97,512.41 L326.39,509.64 L326.84,506.88 L327.33,504.12 L327.86,501.36 L328.42,498.62 L329.01,495.88 L329.65,493.15 L330.32,490.42 L331.02,487.71 L331.76,485.01 L332.53,482.31 L333.35,479.63 L334.19,476.96 L335.07,474.30 L335.99,471.65 L336.94,469.01 L337.92,466.39 L338.94,463.78 L339.99,461.18 L341.08,458.60 L342.20,456.03 L343.36,453.47 L344.54,450.93 L345.76,448.41 L347.02,445.91 L348.31,443.42 L349.63,440.94 L350.98,438.49 L352.36,436.05 L353.78,433.63 L355.22,431.23 L356.70,428.85 L358.21,426.49 L359.75,424.15 L361.32,421.83 L362.93,419.53 L364.56,417.25 L366.22,414.99 L367.91,412.75 L369.63,410.54 L371.38,408.35 L373.16,406.18 L374.97,404.04 L376.80,401.92 L378.66,399.82 L380.55,397.75 L382.47,395.70 L384.41,393.68 L386.38,391.69 L388.38,389.72 L390.40,387.77 L392.44,385.86 L394.52,383.97 L396.61,382.11 L398.73,380.27 L400.88,378.46 L403.05,376.69 L405.24,374.94 L407.45,373.21 L409.69,371.52 L411.95,369.86 L414.23,368.23 L416.53,366.62 L418.85,365.05 L421.19,363.51 L423.56,362.00 L425.94,360.51 L428.34,359.07 L430.76,357.65 L433.20,356.26 L435.66,354.91 L438.14,353.59 L440.63,352.30 L443.14,351.04 L445.66,349.82 L448.20,348.63 L450.76,347.47 L453.33,346.34 L455.92,345.26 L458.52,344.20 L461.13,343.18 L463.76,342.19 L466.40,341.24 L469.05,340.32 L471.72,339.43 L474.39,338.58 L477.08,337.77 L479.77,336.99 L482.48,336.25 L485.20,335.54 L487.92,334.87 L490.66,334.23 L493.40,333.63 L496.15,333.07 L498.91,332.54 L501.67,332.04 L504.44,331.59 L507.22,331.17 L510.00,330.78 L512.79,330.43 L515.58,330.12 L518.37,329.85 L521.17,329.61 L523.97,329.41 L526.77,329.24 L529.58,329.12 L532.38,329.02 L535.19,328.97 L538.00,328.95 L540.81,328.97 L543.62,329.02 L546.42,329.12 L549.23,329.24 L552.03,329.41 L554.83,329.61 L557.63,329.85 L560.42,330.12 L563.21,330.43 L566.00,330.78 L568.78,331.17 L571.56,331.59 L574.33,332.04 L577.09,332.54 L579.85,333.07 L582.60,333.63 L585.34,334.23 L588.08,334.87 L590.80,335.54 L593.52,336.25 L596.23,336.99 L598.92,337.77 L601.61,338.58 L604.28,339.43 L606.95,340.32 L609.60,341.24 L612.24,342.19 L614.87,343.18 L617.48,344.20 L620.08,345.26 L622.67,346.34 L625.24,347.47 L627.80,348.63 L630.34,349.82 L632.86,351.04 L635.37,352.30 L637.86,353.59 L640.34,354.91 L642.80,356.26 L645.24,357.65 L647.66,359.07 L650.06,360.51 L652.44,362.00 L654.81,363.51 L657.15,365.05 L659.47,366.62 L661.77,368.23 L664.05,369.86 L666.31,371.52 L668.55,373.21 L670.76,374.94 L672.95,376.69 L675.12,378.46 L677.27,380.27 L679.39,382.11 L681.48,383.97 L683.56,385.86 L685.60,387.77 L687.62,389.72 L689.62,391.69 L691.59,393.68 L693.53,395.70 L695.45,397.75 L697.34,399.82 L699.20,401.92 L701.03,404.04 L702.84,406.18 L704.62,408.35 L706.37,410.54 L708.09,412.75 L709.78,414.99 L711.44,417.25 L713.07,419.53 L714.68,421.83 L716.25,424.15 L717.79,426.49 L719.30,428.85 L720.78,431.23 L722.22,433.63 L723.64,436.05 L725.02,438.49 L726.37,440.94 L727.69,443.42 L728.98,445.91 L730.24,448.41 L731.46,450.93 L732.64,453.47 L733.80,456.03 L734.92,458.60 L736.01,461.18 L737.06,463.78 L738.08,466.39 L739.06,469.01 L740.01,471.65 L740.93,474.30 L741.81,476.96 L742.65,479.63 L743.47,482.31 L744.24,485.01 L744.98,487.71 L745.68,490.42 L746.35,493.15 L746.99,495.88 L747.58,498.62 L748.14,501.36 L748.67,504.12 L749.16,506.88 L749.61,509.64 L750.03,512.41 L750.41,515.19 L750.75,517.97 L751.06,520.76 L751.33,523.55 L751.56,526.34 L751.76,529.14 L751.92,531.94 L752.05,534.74 L752.13,537.54 L752.19,540.35 L752.20,543.15Z" fill="none" stroke="#000" stroke-width="4.17" pathLength="1347.49" stroke-dasharray="15.42 6.67" stroke-dashoffset="-1.5"/>
</g>
<rect x="85.5" y="45.5" width="930.0" height="984.0" fill="none" stroke="#000" stroke-width="1"/>
<rect x="1073.5" y="955.22" width="45.0" height="32.58" fill="#6574a7"/>
<rect x="1073.5" y="923.04" width="45.0" height="32.58" fill="#5869a3"/>
<rect x="1073.5" y="890.86" width="45.0" height="32.58" fill="#4860a3"/>
<rect x="1073.5" y="858.69" width="45.0" height="32.58" fill="#4a7aaf"/>
<rect x="1073.5" y="826.51" width="45.0" height="32.58" fill="#5a9fc8"/>
<rect x="1073.5" y="794.33" width="45.0" height="32.58" fill="#68c0dc"/>
<rect x="1073.5" y="762.15" width="45.0" height="32.58" fill="#62d6c6"/>
<rect x="1073.5" y="729.97" width="45.0" height="32.58" fill="#3dd870"/>
<rect x="1073.5" y="697.79" width="45.0" height="32.58" fill="#12cc16"/>
<rect x="1073.5" y="665.61" width="45.0" height="32.58" fill="#10bb16"/>
<rect x="1073.5" y="633.44" width="45.0" height="32.58" fill="#0fa816"/>
<rect x="1073.5" y="601.26" width="45.0" height="32.58" fill="#0c8f14"/>
<rect x="1073.5" y="569.08" width="45.0" height="32.58" fill="#0a7812"/>
<rect x="1073.5" y="536.90" width="45.0" height="32.58" fill="#065e0e"/>
<rect x="1073.5" y="504.72" width="45.0" height="32.58" fill="#487a0c"/>
<rect x="1073.5" y="472.54" width="45.0" height="32.58" fill="#aeb20a"/>
<rect x="1073.5" y="440.36" width="45.0" height="32.58" fill="#ffd800"/>
<rect x="1073.5" y="408.19" width="45.0" height="32.58" fill="#ffb400"/>
<rect x="1073.5" y="376.01" width="45.0" height="32.58" fill="#ff9a00"/>
<rect x="1073.5" y="343.83" width="45.0" height="32.58" fill="#ff7c00"/>
<rect x="1073.5" y="311.65" width="45.0" height="32.58" fill="#e60000"/>
<rect x="1073.5" y="279.47" width="45.0" height="32.58" fill="#c00000"/>
<rect x="1073.5" y="247.29" width="45.0" height="32.58" fill="#a00000"/>
<rect x="1073.5" y="215.11" width="45.0" height="32.58" fill="#800000"/>
<rect x="1073.5" y="182.94" width="45.0" height="32.58" fill="#ffdcff"/>
<rect x="1073.5" y="150.76" width="45.0" height="32.58" fill="#ffaaff"/>
<rect x="1073.5" y="118.58" width="45.0" height="32.58" fill="#ff66ff"/>
<rect x="1073.5" y="86.40" width="45.0" height="32.58" fill="#ee33ee"/>
<rect x="1073.5" y="86.5" width="45.0" height="901" fill="none" stroke="#000" stroke-width="1"/>
<path d="M1118.5 987.50H1123.5" stroke="#000" stroke-width="1"/>
<path d="M1118.5 858.50H1123.5" stroke="#000" stroke-width="1"/>
<path d="M1118.5 729.50H1123.5" stroke="#000" stroke-width="1"/>
<path d="M1118.5 601.50H1123.5" stroke="#000" stroke-width="1"/>
<path d="M1118.5 472.50H1123.5" stroke="#000" stroke-width="1"/>
<path d="M1118.5 343.50H1123.5" stroke="#000" stroke-width="1"/>
<path d="M1118.5 215.50H1123.5" stroke="#000" stroke-width="1"/>
<path d="M1118.5 86.50H1123.5" stroke="#000" stroke-width="1"/>
<text x="355.36" y="37.90" font-size="36.80" font-weight="normal" textLength="389.94" lengthAdjust="spacingAndGlyphs">09.09.2025 19:28 UTC</text>
<text x="303.08" y="115.20" font-size="19.55" font-weight="bold" textLength="67.10" lengthAdjust="spacingAndGlyphs">16 km</text>
<text x="423.40" y="310.05" font-size="19.66" font-weight="bold" textLength="53.16" lengthAdjust="spacingAndGlyphs">8 km</text>
<text x="128.91" y="1050.90" font-size="17.40" font-weight="normal" textLength="28.14" lengthAdjust="spacingAndGlyphs">6°E</text>
<text x="314.70" y="1050.90" font-size="17.40" font-weight="normal" textLength="44.10" lengthAdjust="spacingAndGlyphs">6.1°E</text>
<text x="508.52" y="1050.90" font-size="17.40" font-weight="normal" textLength="44.16" lengthAdjust="spacingAndGlyphs">6.2°E</text>
<text x="702.15" y="1050.90" font-size="17.40" font-weight="normal" textLength="44.16" lengthAdjust="spacingAndGlyphs">6.3°E</text>
<text x="895.98" y="1050.90" font-size="17.40" font-weight="normal" textLength="44.18" lengthAdjust="spacingAndGlyphs">6.4°E</text>
<text x="10.75" y="170.10" font-size="17.35" font-weight="normal" textLength="67.06" lengthAdjust="spacingAndGlyphs">49.75°N</text>
<text x="21.40" y="319.30" font-size="17.35" font-weight="normal" textLength="56.44" lengthAdjust="spacingAndGlyphs">49.7°N</text>
<text x="10.75" y="468.50" font-size="17.35" font-weight="normal" textLength="67.06" lengthAdjust="spacingAndGlyphs">49.65°N</text>
<text x="21.40" y="617.50" font-size="17.35" font-weight="normal" textLength="56.44" lengthAdjust="spacingAndGlyphs">49.6°N</text>
<text x="10.75" y="767.10" font-size="17.35" font-weight="normal" textLength="67.06" lengthAdjust="spacingAndGlyphs">49.55°N</text>
<text x="21.40" y="916.10" font-size="17.35" font-weight="normal" textLength="56.44" lengthAdjust="spacingAndGlyphs">49.5°N</text>
<text x="1129.13" y="999.10" font-size="29.20" font-weight="normal" textLength="15.31" lengthAdjust="spacingAndGlyphs">0</text>
<text x="1129.05" y="870.39" font-size="29.20" font-weight="normal" textLength="33.07" lengthAdjust="spacingAndGlyphs">10</text>
<text x="1129.05" y="741.67" font-size="29.20" font-weight="normal" textLength="33.09" lengthAdjust="spacingAndGlyphs">20</text>
<text x="1129.05" y="612.96" font-size="29.20" font-weight="normal" textLength="33.17" lengthAdjust="spacingAndGlyphs">30</text>
<text x="1129.05" y="484.24" font-size="29.20" font-weight="normal" textLength="33.11" lengthAdjust="spacingAndGlyphs">40</text>
<text x="1129.05" y="355.53" font-size="29.20" font-weight="normal" textLength="33.08" lengthAdjust="spacingAndGlyphs">50</text>
<text x="1129.05" y="226.81" font-size="29.20" font-weight="normal" textLength="33.27" lengthAdjust="spacingAndGlyphs">60</text>
<text x="1129.05" y="98.10" font-size="29.20" font-weight="normal" textLength="32.89" lengthAdjust="spacingAndGlyphs">70</text>
<text transform="translate(1192.42 566.49) rotate(-90)" font-size="30.08" font-weight="normal" textLength="54.31" lengthAdjust="spacingAndGlyphs">dBZ</text>
</svg></body></html>
